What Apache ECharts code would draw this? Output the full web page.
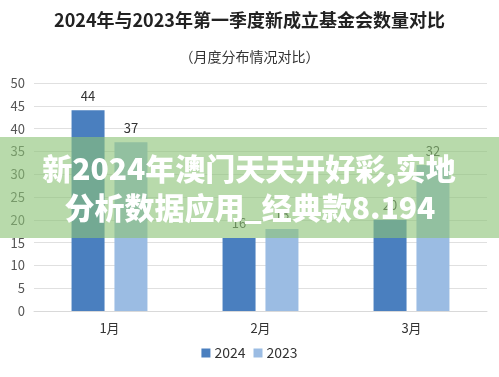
<!DOCTYPE html>
<html>
<head>
<meta charset="utf-8">
<script src="https://cdn.jsdelivr.net/npm/echarts@6/dist/echarts.min.js"></script>
<style>
  html, body { margin: 0; padding: 0; background: #fff; }
  #chart { width: 499px; height: 377px; }
</style>
</head>
<body>
<div id="chart"></div>
<script>
// 月份
var months = ['1月', '2月', '3月'];
// 新成立基金会数量
var data2024 = [44, 16, 20];
var data2023 = [37, 18, 32];
var yTicks = [0, 5, 10, 15, 20, 25, 30, 35, 40, 45, 50];
var watermarkLines = ['新2024年澳门天天开好彩,实地', '分析数据应用_经典款8.194'];

var fontCN = '"Noto Sans CJK SC", "Noto Sans", sans-serif';

var option = {
    animation: false,
    textStyle: { fontFamily: fontCN },
    color: ['#4a7fbf', '#9bbce3'],
    title: [
        {
            text: '2024年与2023年第一季度新成立基金会数量对比',
            left: 'center',
            top: 6,
            textStyle: { fontSize: 18, fontWeight: 'bold', color: '#222', fontFamily: fontCN }
        },
        {
            text: '（月度分布情况对比）',
            left: 'center',
            top: 45,
            textStyle: { fontSize: 14, fontWeight: 'normal', color: '#333', fontFamily: fontCN }
        }
    ],
    legend: {
        bottom: 12,
        left: 'center',
        icon: 'rect',
        itemWidth: 9,
        itemHeight: 9,
        itemGap: 8,
        textStyle: { fontSize: 14, color: '#333', padding: [0, 0, 0, -1] },
        data: ['2024', '2023']
    },
    grid: { left: 34, right: 12, top: 83, bottom: 66 },
    xAxis: {
        type: 'category',
        data: months,
        axisTick: { show: false },
        axisLine: { lineStyle: { color: '#d9d9d9', width: 1 } },
        axisLabel: { color: '#333', fontSize: 13, margin: 11 }
    },
    yAxis: {
        type: 'value',
        min: yTicks[0],
        max: yTicks[yTicks.length - 1],
        interval: 5,
        axisLine: { show: false },
        axisTick: { show: false },
        axisLabel: { color: '#555', fontSize: 13, margin: 9 },
        splitLine: { lineStyle: { color: '#e0e0e0' } }
    },
    series: [
        {
            name: '2024',
            type: 'bar',
            data: data2024,
            barWidth: 33,
            barGap: '30%',
            label: { show: true, position: 'top', distance: 8, color: '#333', fontSize: 13 }
        },
        {
            name: '2023',
            type: 'bar',
            data: data2023,
            barWidth: 33,
            label: { show: true, position: 'top', distance: 8, color: '#333', fontSize: 13 }
        }
    ],
    graphic: [
        {
            type: 'rect',
            z: 100,
            shape: { x: 0, y: 137, width: 499, height: 101 },
            style: { fill: 'rgba(140,196,120,0.62)' }
        },
        {
            type: 'text',
            z: 101,
            x: 249,
            y: 169,
            style: {
                text: watermarkLines[0],
                fill: '#fff',
                font: '900 30px "Noto Sans CJK SC", sans-serif',
                textAlign: 'center',
                textVerticalAlign: 'middle'
            }
        },
        {
            type: 'text',
            z: 101,
            x: 250,
            y: 208,
            style: {
                text: watermarkLines[1],
                fill: '#fff',
                font: '900 30px "Noto Sans CJK SC", sans-serif',
                textAlign: 'center',
                textVerticalAlign: 'middle'
            }
        }
    ]
};

echarts.init(document.getElementById('chart')).setOption(option);
</script>
</body>
</html>
